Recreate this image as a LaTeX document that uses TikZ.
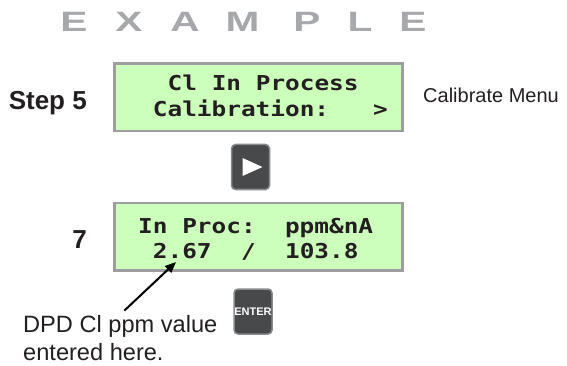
\documentclass[tikz,border=0pt]{standalone}
\usepackage{fontspec}
\setmainfont{Liberation Sans}
\newfontfamily\lcdfont[FakeStretch=1.19]{DejaVu Sans Mono}
\newfontfamily\widefont[FakeStretch=1.45]{Liberation Sans}
\usetikzlibrary{arrows.meta}
\definecolor{lcdgreen}{RGB}{204,255,187}
\definecolor{lcdframe}{RGB}{158,158,160}
\definecolor{keygray}{RGB}{72,73,75}
\definecolor{keyrim}{RGB}{138,139,141}
\definecolor{markgray}{RGB}{166,168,171}
\definecolor{inkgray}{RGB}{35,31,32}
\frenchspacing
\begin{document}
\begin{tikzpicture}[x=1pt,y=-1pt]
        \useasboundingbox (0,0) rectangle (567,366);
        \begin{scope}
            \tikzstyle{every node}=[text=markgray, inner sep=0, anchor=base, font=\widefont\bfseries\fontsize{28}{28}\selectfont]
            \node (e1) at (74,32) {E};
            \node (x) at (129,32) {X};
            \node (a) at (185,32) {A};
            \node (m) at (242.5,32) {M};
            \node (p) at (307,32) {P};
            \node (l) at (360,32) {L};
            \node (e2) at (413,32) {E};
        \end{scope}
        \begin{scope}
            \tikzstyle{every node}=[fill=lcdgreen, draw=lcdframe, line width=2.5pt, minimum width=288pt, minimum height=67.5pt, inner sep=0]
            \node (calib) at (258.5,97.25) {};
            \node (inproc) at (258.5,236.5) {};
        \end{scope}
        \begin{scope}
            \tikzstyle{every node}=[anchor=base west, inner sep=0, text=inkgray, font=\lcdfont\bfseries\fontsize{20.5}{24}\selectfont]
            \node (row1) at (167.5,91) {Cl In Process};
            \node (row2) at (152.7,117) {Calibration:~~~>};
            \node (row3) at (138,233) {In Proc:~~ppm\&nA};
            \node (row4) at (152.7,258) {2.67~~/~~103.8};
        \end{scope}
        \begin{scope}
            \tikzstyle{every node}=[inner sep=0, text=inkgray]
            \node[anchor=base east, font=\bfseries\fontsize{26}{30}\selectfont] (step) at (87,110) {Step 5};
            \node[anchor=base east, font=\bfseries\fontsize{26}{30}\selectfont] (seven) at (87,248) {7};
            \node[anchor=base west, font=\fontsize{20}{24}\selectfont] (menu) at (423,103) {Calibrate Menu};
            \node[anchor=base west, font=\fontsize{23.6}{28}\selectfont] (dpd) at (23,332) {DPD Cl ppm value};
            \node[anchor=base west, font=\fontsize{23.6}{28}\selectfont] (here) at (23,360) {entered here.};
        \end{scope}
        \begin{scope}
            \tikzstyle{every node}=[fill=keygray, draw=keyrim, line width=1.5pt, rounded corners=4pt, minimum width=38pt, minimum height=45pt, inner sep=0]
            \node (play) at (250.5,167) {};
            \node[text=white, font=\bfseries\fontsize{11}{12}\selectfont] (enter) at (253,311.5) {ENTER};
        \end{scope}
        \fill[white] (play.center) ++(-8,-9) -- ++(0,18) -- ++(20,-9) -- cycle;
        \coordinate (valtip) at (176,262);
        \draw[line width=2pt, -{Triangle[length=11pt,width=9pt]}] ([xshift=4pt,yshift=4pt]dpd.north) -- (valtip);
    \end{tikzpicture}
\end{document}
